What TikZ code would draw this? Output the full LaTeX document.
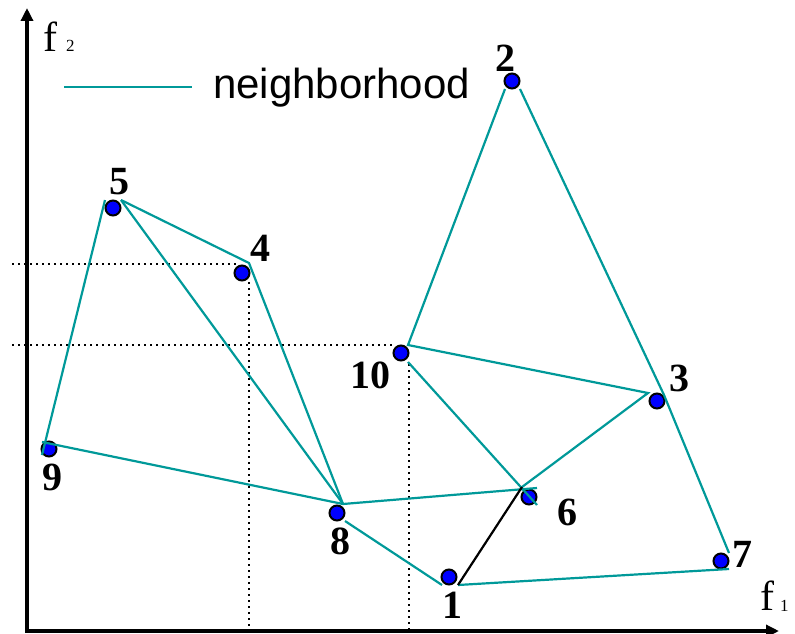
\documentclass[tikz,border=0pt]{standalone}
\usepackage{fontspec}
\setmainfont{Liberation Serif}
\newfontfamily\legendfont{Liberation Sans}
\usetikzlibrary{arrows.meta}
\definecolor{nbteal}{RGB}{0,153,153}
\definecolor{dotblue}{RGB}{0,0,255}

\begin{document}
\begin{tikzpicture}[x=1pt, y=-1pt,
    dot/.style={circle, draw=black, line width=2pt, fill=dotblue,
                minimum size=15pt, inner sep=0pt},
    num/.style={font=\fontsize{40}{40}\selectfont\bfseries, inner sep=0pt},
    axlabel/.style={font=\fontsize{42}{42}\selectfont, inner sep=0pt, anchor=base west},
    axsub/.style={font=\fontsize{17}{17}\selectfont, inner sep=0pt, anchor=base west},
    nbline/.style={draw=nbteal, line width=2.2pt},
    guide/.style={draw=black, line width=2pt, dash pattern=on 2pt off 4pt},
    axis/.style={draw=black, line width=4pt, line cap=rect,
                 -{Triangle[length=13pt, width=12pt]}}
]
    \useasboundingbox (0,0) rectangle (795,634);

    % axes
    \coordinate (o) at (27,631);
    \coordinate (ytop) at (27,8);
    \coordinate (xend) at (779,631);
    \draw[axis] (o) -- (ytop);
    \draw[axis] (o) -- (xend);
    \node[axlabel] (fy) at (43,52) {f};
    \node[axsub] (fysub) at (66,52) {2};
    \node[axlabel] (fx) at (760,610) {f};
    \node[axsub] (fxsub) at (780,611) {1};

    % guide lines for points 4 and 10
    \coordinate (g4h) at (12,264);
    \coordinate (g4e) at (237,264);
    \coordinate (g4v) at (249,282);
    \coordinate (g4b) at (249,629);
    \coordinate (g10h) at (12,345);
    \coordinate (g10e) at (393,345);
    \coordinate (g10v) at (409,364);
    \coordinate (g10b) at (409,629);
    \draw[guide] (g4h) -- (g4e);
    \draw[guide] (g4v) -- (g4b);
    \draw[guide] (g10h) -- (g10e);
    \draw[guide] (g10v) -- (g10b);

    % points
    \node[dot] (d1) at (449,577) {};
    \node[dot] (d2) at (512,81) {};
    \node[dot] (d3) at (657,401) {};
    \node[dot] (d4) at (242,273) {};
    \node[dot] (d5) at (113,208) {};
    \node[dot] (d6) at (529,497) {};
    \node[dot] (d7) at (721,561) {};
    \node[dot] (d8) at (337,513) {};
    \node[dot] (d9) at (49,449) {};
    \node[dot] (d10) at (401,353) {};

    % labels
    \node[num] (l1) at (452,605) {1};
    \node[num] (l2) at (505,58) {2};
    \node[num] (l3) at (679,378) {3};
    \node[num] (l4) at (260,248) {4};
    \node[num] (l5) at (119,182) {5};
    \node[num] (l6) at (567,512) {6};
    \node[num] (l7) at (742,554) {7};
    \node[num] (l8) at (340,541) {8};
    \node[num] (l9) at (52,477) {9};
    \node[num] (l10) at (370,375) {10};

    % line ends near each point
    \coordinate (v9a) at (42,455);
    \coordinate (v9b) at (42,442);
    \coordinate (v5a) at (105,200);
    \coordinate (v5b) at (121,200);
    \coordinate (v4) at (249,263);
    \coordinate (v8) at (343,504);
    \coordinate (v8b) at (345,521);
    \coordinate (v1a) at (442,585);
    \coordinate (v1b) at (458,585);
    \coordinate (v7a) at (729,569);
    \coordinate (v7b) at (729,553);
    \coordinate (v3a) at (664,395);
    \coordinate (v3b) at (648,393);
    \coordinate (v2a) at (505,89);
    \coordinate (v2b) at (520,89);
    \coordinate (v10a) at (408,345);
    \coordinate (v10b) at (408,362);
    \coordinate (v6a) at (522,487);
    \coordinate (v6b) at (537,488);
    \coordinate (v6c) at (537,505);

    % neighborhood
    \draw[nbline] (v9a) -- (v5a);
    \draw[nbline] (v5b) -- (v4) -- (v8);
    \draw[nbline] (v5b) -- (v8);
    \draw[nbline] (v9b) -- (v8) -- (v6b);
    \draw[nbline] (v8b) -- (v1a);
    \draw[nbline] (v1b) -- (v7a);
    \draw[nbline] (v2b) -- (v3a) -- (v7b);
    \draw[nbline] (v2a) -- (v10a) -- (v3b) -- (v6a);
    \draw[nbline] (v10b) -- (v6c);
    \draw[black, line width=2.2pt] (v1b) -- (v6a);

    % legend
    \coordinate (lg1) at (64,87);
    \coordinate (lg2) at (192,87);
    \draw[nbline] (lg1) -- (lg2);
    \node[anchor=base west, inner sep=0pt,
          font=\legendfont\fontsize{42}{42}\selectfont] (lgtext) at (213,98) {neighborhood};
\end{tikzpicture}
\end{document}
